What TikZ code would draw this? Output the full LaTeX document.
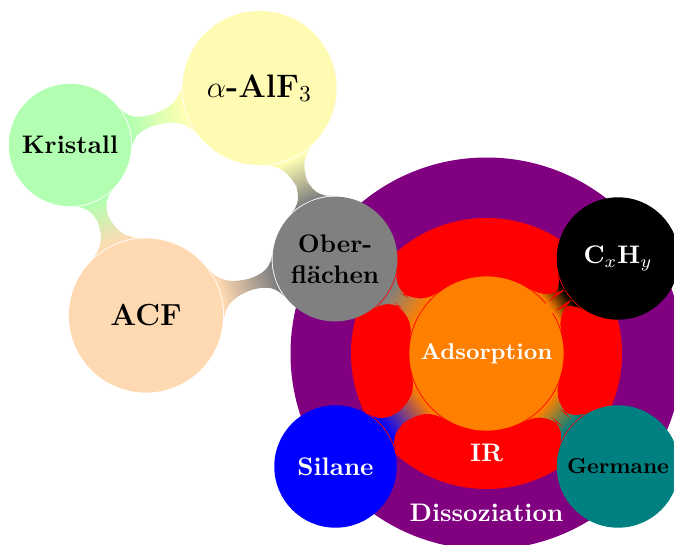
\documentclass[tikz,border=0pt]{standalone}
\usetikzlibrary{mindmap}
\definecolor{violetdisc}{RGB}{128,0,128}
\begin{document}
\begin{tikzpicture}[x=0.3937pt,y=-0.3937pt,
  disclabel/.style={text=white,font=\bfseries},
  small concept/.style={concept,minimum size=47pt,text width=44pt,inner sep=0pt,outer sep=1pt,align=center,font=\bfseries},
  big concept/.style={concept,minimum size=59.5pt,text width=56pt,inner sep=0pt,outer sep=1pt,align=center,font=\bfseries},
  bar/.style={line width=4.7pt}]
\useasboundingbox (0,0) rectangle (674,545);
\clip (0,0) rectangle (674,545);

% background discs behind the central concept
\fill[violetdisc] (486.5,353.5) circle (196);
\node[disclabel] (diss) at (486.5,513) {Dissoziation};
\fill[red] (486.5,353.5) circle (135.5);
\node[disclabel] (ir) at (486.5,453) {IR};

\begin{scope}[mindmap]
  \node[small concept,concept color=green!30,text=black] (kristall) at (70,145) {Kristall};
  \node[big concept,concept color=yellow!30,text=black,font=\fontsize{12.8pt}{15pt}\selectfont\bfseries] (alf) at (259.5,88) {$\alpha$-AlF$_3$};
  \node[big concept,concept color=orange!30,text=black,font=\large\bfseries] (acf) at (146,315.5) {ACF};
  \node[small concept,concept color=gray,text=black] (ober) at (335,259) {Ober-\\flächen};
  \node[big concept,concept color=orange,text=white,font=\small\bfseries] (ads) at (486.5,353.5) {Adsorption};
  \node[small concept,concept color=black,text=white] (cxhy) at (618,258.5) {C$_x$H$_y$};
  \node[small concept,concept color=blue,text=white] (silane) at (335.5,466.5) {Silane};
  \node[small concept,concept color=teal,text=black,font=\fontsize{8.5pt}{10pt}\selectfont\bfseries] (germane) at (618,466.5) {Germane};

  \path[bar] (kristall) to[circle connection bar switch color=from (green!30) to (yellow!30)] (alf);
  \path[bar] (kristall) to[circle connection bar switch color=from (green!30) to (orange!30)] (acf);
  \path[bar] (alf) to[circle connection bar switch color=from (yellow!30) to (gray)] (ober);
  \path[bar] (acf) to[circle connection bar switch color=from (orange!30) to (gray)] (ober);
  \path[bar] (ads) to[circle connection bar switch color=from (orange) to (gray)] (ober);
  \path[bar] (ads) to[circle connection bar switch color=from (orange) to (black)] (cxhy);
  \path[bar] (ads) to[circle connection bar switch color=from (orange) to (blue)] (silane);
  \path[bar] (ads) to[circle connection bar switch color=from (orange) to (teal)] (germane);
\end{scope}
\end{tikzpicture}
\end{document}
